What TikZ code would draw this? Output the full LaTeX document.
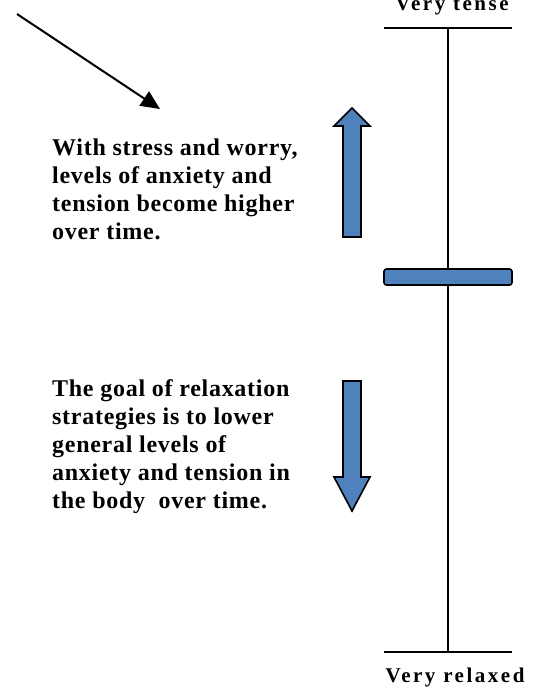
\documentclass[tikz,border=0pt]{standalone}
\usepackage{fontspec}
\setmainfont{Liberation Serif}
\newfontfamily\bodyfont[LetterSpace=3]{Liberation Serif}
\newfontfamily\endfont[LetterSpace=12]{Liberation Serif}
\usetikzlibrary{arrows.meta}
\definecolor{barblue}{HTML}{4F81BD}
\tikzset{
  scaleline/.style={line width=2pt, black},
  bluearrow/.style={fill=barblue, draw=black, line width=1.6pt, line join=miter},
  label/.style={font=\bodyfont\bfseries\fontsize{24}{28}\selectfont, inner sep=0pt, align=left, text=black},
  endlabel/.style={font=\endfont\bfseries\fontsize{21}{24}\selectfont, inner sep=0pt, text=black}
}
\begin{document}
\begin{tikzpicture}[x=1pt,y=-1pt]
\useasboundingbox (0,0) rectangle (542,688);
% diagonal arrow
\coordinate (dstart) at (17,14);
\coordinate (dend) at (160,109);
\draw[line width=2pt, -{Triangle[length=19pt,width=17pt]}] (dstart) -- (dend);
% scale
\coordinate (top) at (448,28);
\coordinate (bot) at (448,652);
\coordinate (tl) at (384,28);
\coordinate (tr) at (512,28);
\coordinate (bl) at (384,652);
\coordinate (br) at (512,652);
\draw[scaleline] (top) -- (bot);
\draw[scaleline] (tl) -- (tr);
\draw[scaleline] (bl) -- (br);
% slider bar
\draw[bluearrow, rounded corners=2.5pt] (384,269) rectangle (512,285);
% up arrow
\draw[bluearrow] (352,108) -- (370,126) -- (361,126) -- (361,237) -- (343,237) -- (343,126) -- (334,126) -- cycle;
% down arrow
\draw[bluearrow] (352,511) -- (370,477) -- (361,477) -- (361,381) -- (343,381) -- (343,477) -- (334,477) -- cycle;
% labels
\node[endlabel, anchor=base] (tense) at (452,10) {Very tense};
\node[endlabel, anchor=base] (relaxed) at (455,682) {Very relaxed};
\node[label, anchor=north west] (t1) at (52,139) {With stress and worry,\\levels of anxiety and\\tension become higher\\over time.};
\node[label, anchor=north west] (t2) at (52,379) {The goal of relaxation\\strategies is to lower\\general levels of\\anxiety and tension in\\the body\ \ over time.};
\end{tikzpicture}
\end{document}
